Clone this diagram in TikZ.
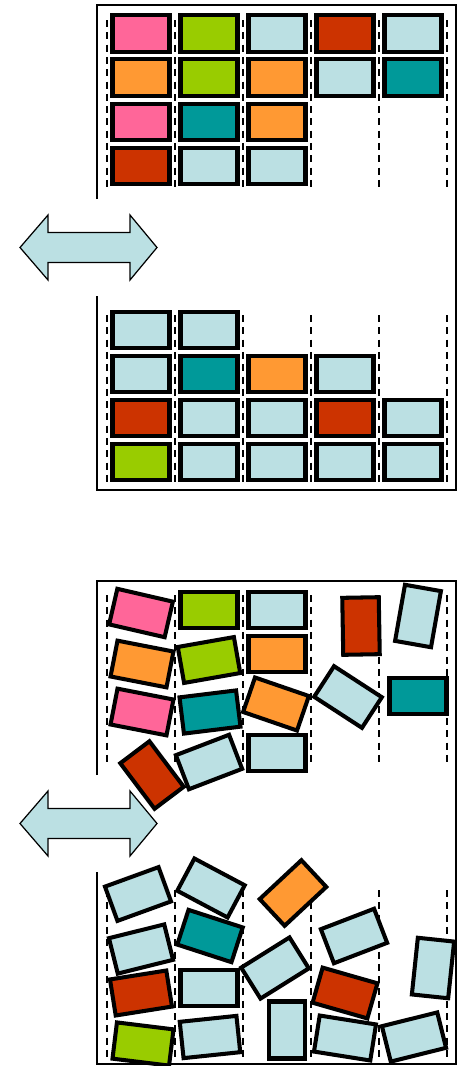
\documentclass[tikz,border=0pt]{standalone}
\usepackage{xcolor}
\usepackage{tikz}

\definecolor{pinkb}{HTML}{FF6699}
\definecolor{greenb}{HTML}{99CC00}
\definecolor{lblue}{HTML}{BBE0E3}
\definecolor{redb}{HTML}{CC3300}
\definecolor{orangeb}{HTML}{FF9933}
\definecolor{tealb}{HTML}{009999}

\begin{document}
\begin{tikzpicture}[
        x=0.02cm, y=-0.02cm,
        blk/.style={draw, line width=2.3pt, minimum width=1.14cm, minimum height=0.73cm, inner sep=0pt, fill=#1},
        blk/.default=lblue,
        panel/.style={line width=1.1pt},
        colline/.style={line width=1.1pt, dash pattern=on 4pt off 3pt},
        dblarrow/.style={draw, fill=lblue, line width=0.7pt, line join=miter},
    ]
    \useasboundingbox (0,0) rectangle (457,1066);

    % ---- Frames ----
    \draw[panel] (97,199) -- (97,5) -- (456,5) -- (456,490) -- (97,490) -- (97,296);
    \draw[panel] (97,775) -- (97,581) -- (456,581) -- (456,1064) -- (97,1064) -- (97,872);

    % ---- Column guides ----
    \foreach \x in {107,175,...,447} {
        \draw[colline] (\x,20) -- (\x,190);
        \draw[colline] (\x,315) -- (\x,485);
        \draw[colline] (\x,595) -- (\x,765);
        \draw[colline] (\x,890) -- (\x,1062);
    }

    % ---- Swap arrows ----
    \foreach \ay in {247.5,823.5}
        \draw[dblarrow] (20,\ay) -- ++(28,-32.5) -- ++(0,17.5) -- ++(82,0) -- ++(0,-17.5)
            -- ++(27,32.5) -- ++(-27,32.5) -- ++(0,-17.5) -- ++(-82,0) -- ++(0,17.5) -- cycle;

    % ---- Sorted stacks, hanging ----
    \foreach \i/\j/\c in {1/1/pinkb, 1/2/orangeb, 1/3/pinkb, 1/4/redb,
                          2/1/greenb, 2/2/greenb, 2/3/tealb, 2/4/lblue,
                          3/1/lblue, 3/2/orangeb, 3/3/orangeb, 3/4/lblue,
                          4/1/redb, 4/2/lblue,
                          5/1/lblue, 5/2/tealb}
        \node[blk=\c] (a-\i-\j) at ({141+68*(\i-1)}, {33.5+44.2*(\j-1)}) {};

    % ---- Sorted stacks, standing ----
    \foreach \i/\j/\c in {1/1/greenb, 1/2/redb, 1/3/lblue, 1/4/lblue,
                          2/1/lblue, 2/2/lblue, 2/3/tealb, 2/4/lblue,
                          3/1/lblue, 3/2/lblue, 3/3/orangeb,
                          4/1/lblue, 4/2/redb, 4/3/lblue,
                          5/1/lblue, 5/2/lblue}
        \node[blk=\c] (b-\i-\j) at ({141+68*(\i-1)}, {462-44*(\j-1)}) {};

    % ---- Jumbled, hanging ----
    \node[blk=pinkb, rotate=-13] (j1) at (141,613) {};
    \node[blk=greenb] (j2) at (209,610) {};
    \node[blk=lblue] (j3) at (277,610) {};
    \node[blk=redb, rotate=91] (j4) at (361,626) {};
    \node[blk=lblue, rotate=80] (j5) at (418,616) {};
    \node[blk=orangeb, rotate=-11] (j6) at (142,664) {};
    \node[blk=greenb, rotate=10] (j7) at (209,660) {};
    \node[blk=orangeb] (j8) at (277,654) {};
    \node[blk=pinkb, rotate=-11] (j9) at (142,712) {};
    \node[blk=tealb, rotate=7] (j10) at (210,712) {};
    \node[blk=orangeb, rotate=-19] (j11) at (276,704) {};
    \node[blk=lblue, rotate=-33] (j12) at (348,697) {};
    \node[blk=tealb] (j13) at (418,696) {};
    \node[blk=redb, rotate=-53] (j14) at (152,775) {};
    \node[blk=lblue, rotate=21] (j15) at (209,762) {};
    \node[blk=lblue] (j16) at (277,753) {};

    % ---- Jumbled, standing ----
    \node[blk=lblue, rotate=20] (k1) at (138,894) {};
    \node[blk=lblue, rotate=-28] (k2) at (211,888) {};
    \node[blk=orangeb, rotate=43] (k3) at (293,893) {};
    \node[blk=tealb, rotate=-18] (k4) at (210,936) {};
    \node[blk=lblue, rotate=14] (k5) at (141,949) {};
    \node[blk=lblue, rotate=32] (k6) at (275,968) {};
    \node[blk=lblue, rotate=21] (k7) at (354,936) {};
    \node[blk=lblue, rotate=84] (k8) at (433,968) {};
    \node[blk=redb, rotate=9] (k9) at (141,993) {};
    \node[blk=lblue] (k10) at (209,988) {};
    \node[blk=redb, rotate=-16] (k11) at (345,993) {};
    \node[blk=greenb, rotate=-7] (k12) at (143,1044) {};
    \node[blk=lblue, rotate=6] (k13) at (210,1037) {};
    \node[blk=lblue, rotate=90] (k14) at (287,1030) {};
    \node[blk=lblue, rotate=-9] (k15) at (345,1038) {};
    \node[blk=lblue, rotate=14] (k16) at (414,1037) {};
\end{tikzpicture}
\end{document}
